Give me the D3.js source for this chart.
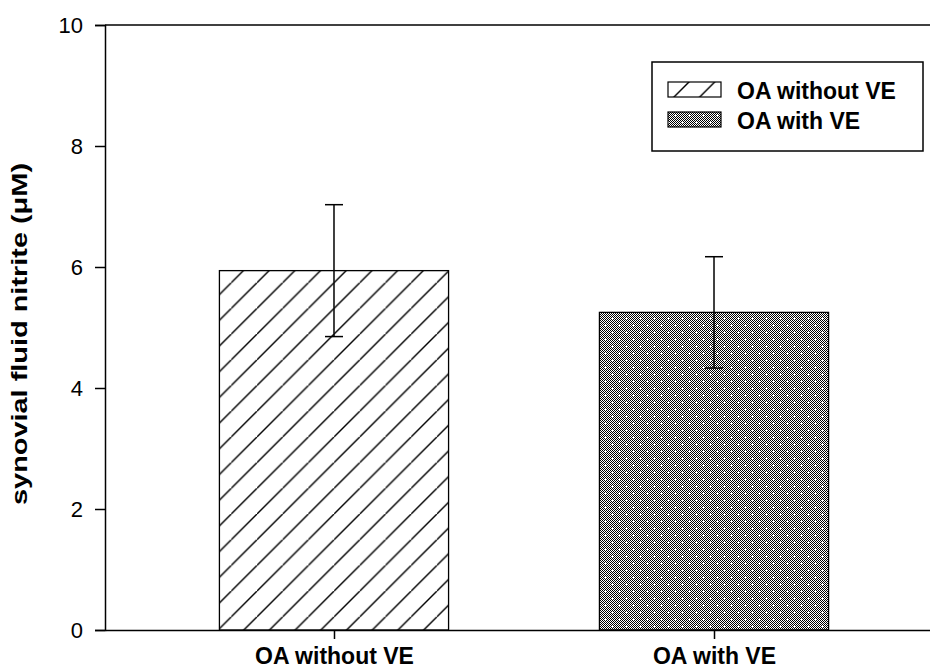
<!DOCTYPE html>
<html>
<head>
<meta charset="utf-8">
<script src="https://cdn.jsdelivr.net/npm/d3@7"></script>
<style>
  body { margin: 0; background: #fff; }
  text { font-family: "Liberation Sans", Arial, sans-serif; fill: #000; }
</style>
</head>
<body>
<div id="chart"></div>
<script>
// data
var categories = ['OA without VE', 'OA with VE'];
var means = [5.94, 5.25];
var errors = [1.09, 0.92];
var yTicks = [0, 2, 4, 6, 8, 10];
var legendLabels = ['OA without VE', 'OA with VE'];
var fills = ['url(#hatch)', 'url(#dots)'];

var W = 930, H = 668;
var plotLeft = 105, plotTop = 25, plotBottom = 630, plotRight = 943;

var svg = d3.select('#chart').append('svg')
    .attr('width', W)
    .attr('height', H);

var defs = svg.append('defs');

// diagonal hatch
var hatch = defs.append('pattern')
    .attr('id', 'hatch')
    .attr('patternUnits', 'userSpaceOnUse')
    .attr('width', 25.7).attr('height', 25.7);
hatch.append('rect').attr('width', 25.7).attr('height', 25.7).attr('fill', '#fff');
hatch.append('path')
    .attr('d', 'M-2,27.7 L27.7,-2 M-27.7,27.7 L0,0 M25.7,51.4 L51.4,25.7')
    .attr('stroke', '#000').attr('stroke-width', 1.4);

// fine checker + white dots
var checker = defs.append('pattern')
    .attr('id', 'checker')
    .attr('patternUnits', 'userSpaceOnUse')
    .attr('width', 2).attr('height', 2);
checker.append('rect').attr('width', 2).attr('height', 2).attr('fill', '#fff');
checker.append('rect').attr('width', 1).attr('height', 1).attr('fill', '#000');
checker.append('rect').attr('x', 1).attr('y', 1).attr('width', 1).attr('height', 1).attr('fill', '#000');

var dots = defs.append('pattern')
    .attr('id', 'dots')
    .attr('patternUnits', 'userSpaceOnUse')
    .attr('width', 14).attr('height', 14);
dots.append('rect').attr('width', 14).attr('height', 14).attr('fill', 'url(#checker)');
[[3, 3], [10, 10]].forEach(function (p) {
    dots.append('rect').attr('x', p[0] - 1).attr('y', p[1]).attr('width', 3).attr('height', 1).attr('fill', '#fff');
    dots.append('rect').attr('x', p[0]).attr('y', p[1] - 1).attr('width', 1).attr('height', 3).attr('fill', '#fff');
});

var y = d3.scaleLinear().domain([0, 10]).range([plotBottom, plotTop]);
var x = d3.scalePoint().domain(categories).range([plotLeft, plotRight]).padding(0.6026);
var barW = x.step() * 0.603;

// bars
svg.append('g').selectAll('rect')
    .data(means)
    .enter()
    .append('rect')
    .attr('x', (d, i) => x(categories[i]) - barW / 2)
    .attr('y', d => y(d))
    .attr('width', barW)
    .attr('height', d => y(0) - y(d))
    .attr('fill', (d, i) => fills[i])
    .attr('stroke', '#000')
    .attr('stroke-width', 1.3);

// error bars
var eb = svg.append('g').attr('stroke', '#000').attr('stroke-width', 1.5);
means.forEach(function (m, i) {
    var cx = x(categories[i]);
    eb.append('line').attr('x1', cx).attr('x2', cx).attr('y1', y(m - errors[i])).attr('y2', y(m + errors[i]));
    eb.append('line').attr('x1', cx - 9).attr('x2', cx + 9).attr('y1', y(m + errors[i])).attr('y2', y(m + errors[i]));
    eb.append('line').attr('x1', cx - 9).attr('x2', cx + 9).attr('y1', y(m - errors[i])).attr('y2', y(m - errors[i]));
});

// frame top line
svg.append('line')
    .attr('x1', plotLeft).attr('x2', plotRight).attr('y1', plotTop).attr('y2', plotTop)
    .attr('stroke', '#000').attr('stroke-width', 1.5);

// y axis
var yAxis = svg.append('g')
    .attr('transform', `translate(${plotLeft},0)`)
    .call(d3.axisLeft(y).tickValues(yTicks).tickSize(10).tickPadding(12).tickFormat(d3.format('d')));
yAxis.select('.domain').attr('stroke-width', 1.5);
yAxis.selectAll('line').attr('stroke-width', 1.5);
yAxis.selectAll('text').style('font-size', '22px').attr('dy', '0.36em');

// x axis
var xAxis = svg.append('g')
    .attr('transform', `translate(0,${plotBottom})`)
    .call(d3.axisBottom(x).tickSize(9).tickPadding(9).tickSizeOuter(0));
xAxis.select('.domain').attr('stroke-width', 1.5);
xAxis.selectAll('line').attr('stroke-width', 1.5);
xAxis.selectAll('text').style('font-size', '23px').style('font-weight', 'bold');

// y title
svg.append('text')
    .attr('transform', `translate(27,334) rotate(-90)`)
    .attr('text-anchor', 'middle')
    .attr('textLength', 342)
    .attr('lengthAdjust', 'spacingAndGlyphs')
    .style('font-size', '22px')
    .style('font-weight', 'bold')
    .text('synovial fluid nitrite (\u03bcM)');

// legend
var lg = svg.append('g');
lg.append('rect')
    .attr('x', 652).attr('y', 62).attr('width', 271).attr('height', 89)
    .attr('fill', '#fff').attr('stroke', '#000').attr('stroke-width', 1.5);
legendLabels.forEach(function (l, i) {
    lg.append('rect')
        .attr('x', 668).attr('y', 82 + i * 30).attr('width', 53).attr('height', 15)
        .attr('fill', fills[i]).attr('stroke', '#000').attr('stroke-width', 1.2);
    lg.append('text')
        .attr('x', 737).attr('y', 99 + i * 29.5)
        .style('font-size', '23px').style('font-weight', 'bold')
        .text(l);
});
</script>
</body>
</html>
